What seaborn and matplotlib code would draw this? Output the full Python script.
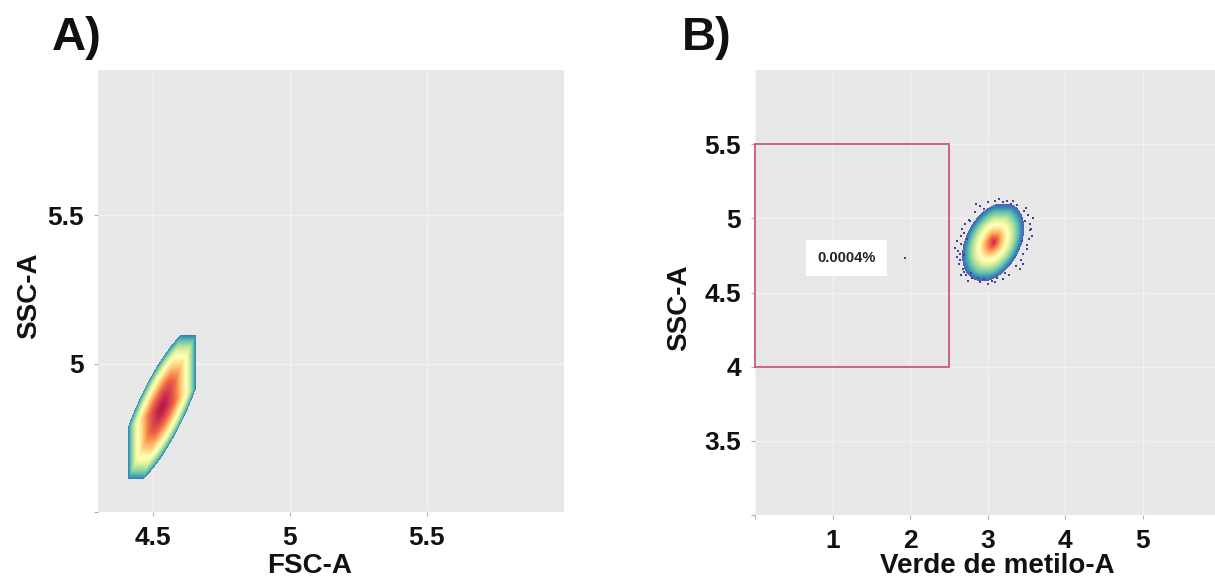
import numpy as np
import pandas as pd
import matplotlib
matplotlib.use("Agg")
import matplotlib.pyplot as plt
from matplotlib.patches import Rectangle
import seaborn as sns

# ---------------- data ----------------
# Panel A: FSC-A vs SSC-A population (centre, edge semi-extents, correlation, clip box)
a_center = [4.535, 4.855]
a_extent = [0.16, 0.275]
a_rho = 0.80
a_clip = [4.41, 4.657, 4.612, 5.096]
a_power = 1.8          # colour steepness of the density

# Panel B: Verde de metilo-A vs SSC-A population
b_center = [3.07, 4.84]
b_extent = [0.40, 0.265]
b_rho = 0.35
b_clip = [2.60, 3.60, 4.58, 5.095]
b_power = 0.85

# sparse single events around the B population
b_event_x = [2.62, 2.64, 2.66, 2.68, 2.70, 2.65, 2.72, 2.69, 2.74, 2.63, 2.58, 2.60,
             3.52, 3.55, 3.49, 3.57, 3.50, 3.45, 3.54, 3.47, 3.58, 3.43,
             2.90, 3.00, 3.10, 3.20, 3.30, 3.38, 2.95, 3.15,
             2.80, 2.90, 3.00, 3.10, 3.20, 3.28, 2.95, 1.93,
             2.67, 2.71, 2.76, 3.46, 3.51, 3.41, 2.85, 3.25, 3.05, 2.78,
             2.61, 2.66, 2.73, 2.77, 3.36, 3.44, 3.53, 3.48, 3.33, 2.83,
             2.88, 3.12, 3.22, 3.56, 2.70, 2.64]
b_event_y = [4.78, 4.72, 4.83, 4.66, 4.75, 4.88, 4.62, 4.90, 4.58, 4.69, 4.80, 4.74,
             5.02, 4.96, 5.07, 4.88, 4.82, 4.76, 4.92, 5.05, 5.00, 4.72,
             5.08, 5.11, 5.12, 5.11, 5.10, 5.09, 5.06, 5.13,
             4.60, 4.57, 4.56, 4.57, 4.59, 4.62, 4.59, 4.73,
             4.93, 4.96, 4.99, 4.69, 4.79, 4.66, 5.10, 5.12, 4.58, 4.63,
             4.85, 4.62, 4.86, 4.98, 4.68, 4.85, 4.86, 4.98, 5.12, 5.04,
             4.60, 4.60, 4.63, 4.93, 4.64, 4.76]

# gate
gate_x = [0.0, 2.5]
gate_y = [4.0, 5.5]
gate_label = "0.0004%"
gate_label_pos = [1.18, 4.733]

# axes
a_xlim, a_ylim = [4.30, 6.0], [4.5, 5.99]
a_xticks, a_xticklabels = [4.5, 5.0, 5.5], ["4.5", "5", "5.5"]
a_yticks, a_yticklabels = [4.5, 5.0, 5.5], ["", "5", "5.5"]
b_xlim, b_ylim = [0.0, 5.93], [3.0, 6.0]
b_xticks, b_xticklabels = [0, 1, 2, 3, 4, 5], ["", "1", "2", "3", "4", "5"]
b_yticks, b_yticklabels = [3.0, 3.5, 4.0, 4.5, 5.0, 5.5], ["", "3.5", "4", "4.5", "5", "5.5"]

# ---------------- style ----------------
sns.set_theme(style="white")
plt.rcParams["font.family"] = ["Liberation Sans", "DejaVu Sans"]
plt.rcParams["font.weight"] = "bold"
plt.rcParams["axes.labelweight"] = "bold"

cmap = sns.color_palette("Spectral_r", as_cmap=True)
panel_bg = "#e7e7e7"

fig = plt.figure(figsize=(12.15, 5.85), dpi=100)
W, H = 1215, 585
axA = fig.add_axes([98 / W, 1 - 512 / H, 466 / W, 442 / H])
axB = fig.add_axes([755 / W, 1 - 515 / H, 460 / W, 445 / H])


def draw_population(ax, center, extent, rho, clip, power, vmin, vmax):
    gx = np.linspace(clip[0] - 0.01, clip[1] + 0.01, 700)
    gy = np.linspace(clip[2] - 0.01, clip[3] + 0.01, 700)
    X, Y = np.meshgrid(gx, gy)
    u = (X - center[0]) / extent[0]
    w = (Y - center[1]) / extent[1]
    r_e = np.sqrt((u ** 2 - 2 * rho * u * w + w ** 2) / (1 - rho ** 2))
    bx, by = (clip[0] + clip[1]) / 2, (clip[2] + clip[3]) / 2
    hx, hy = (clip[1] - clip[0]) / 2, (clip[3] - clip[2]) / 2
    r_b = np.maximum(np.abs(X - bx) / hx, np.abs(Y - by) / hy)
    r = np.maximum(r_e, r_b)
    V = np.ma.masked_where(r > 1, 1 - np.clip(r, 0, 1) ** power)
    ax.pcolormesh(X, Y, V, cmap=cmap, vmin=vmin, vmax=vmax, shading="auto",
                  rasterized=True, zorder=3)


def style_axes(ax, xlim, ylim, xt, xtl, yt, ytl):
    ax.set_facecolor(panel_bg)
    ax.set_xlim(xlim)
    ax.set_ylim(ylim)
    ax.set_xticks(xt)
    ax.set_xticklabels(xtl)
    ax.set_yticks(yt)
    ax.set_yticklabels(ytl)
    for s in ax.spines.values():
        s.set_visible(False)
    ax.grid(True, color="white", linewidth=1.0, alpha=0.45, zorder=0)
    ax.set_axisbelow(True)
    ax.tick_params(axis="both", which="major", length=3, width=0.8,
                   color="#b0b0b0", labelsize=19, pad=7, labelcolor="#111111",
                   bottom=True, left=True)
    for lab in ax.get_xticklabels() + ax.get_yticklabels():
        lab.set_fontweight("bold")


# Panel A
style_axes(axA, a_xlim, a_ylim, a_xticks, a_xticklabels, a_yticks, a_yticklabels)
draw_population(axA, a_center, a_extent, a_rho, a_clip, a_power, vmin=-0.10, vmax=1.05)
axA.set_xlabel("FSC-A", fontsize=20, fontweight="bold", color="#111111")
axA.set_ylabel("SSC-A", fontsize=20, fontweight="bold", color="#111111")
axA.xaxis.set_label_coords(0.455, -0.093)
axA.yaxis.set_label_coords(-0.12, 0.489)

# Panel B
style_axes(axB, b_xlim, b_ylim, b_xticks, b_xticklabels, b_yticks, b_yticklabels)
draw_population(axB, b_center, b_extent, b_rho, b_clip, b_power, vmin=-0.03, vmax=1.0)
events = pd.DataFrame({"x": b_event_x, "y": b_event_y})
sns.scatterplot(data=events, x="x", y="y", ax=axB, marker="s", s=2.5,
                color="#4b3f9a", linewidth=0, zorder=4, legend=False)
axB.add_patch(Rectangle((gate_x[0], gate_y[0]), gate_x[1] - gate_x[0],
                        gate_y[1] - gate_y[0], fill=False, edgecolor="#c9587a",
                        linewidth=1.3, zorder=5, clip_on=False))
axB.text(gate_label_pos[0], gate_label_pos[1], gate_label, fontsize=10.5,
         fontweight="bold", color="#222222", ha="center", va="center", zorder=6,
         bbox=dict(boxstyle="square,pad=0.75", facecolor="white", edgecolor="none"))
axB.set_xlabel("Verde de metilo-A", fontsize=20, fontweight="bold", color="#111111")
axB.set_ylabel("SSC-A", fontsize=20, fontweight="bold", color="#111111")
axB.xaxis.set_label_coords(0.526, -0.085)
axB.yaxis.set_label_coords(-0.137, 0.465)

# panel letters
fig.text(52 / W, 1 - 50 / H, "A)", fontsize=34, fontweight="bold", color="#111111",
         ha="left", va="baseline")
fig.text(682 / W, 1 - 50 / H, "B)", fontsize=34, fontweight="bold", color="#111111",
         ha="left", va="baseline")

fig.savefig("out.png", dpi=100, facecolor="white")
